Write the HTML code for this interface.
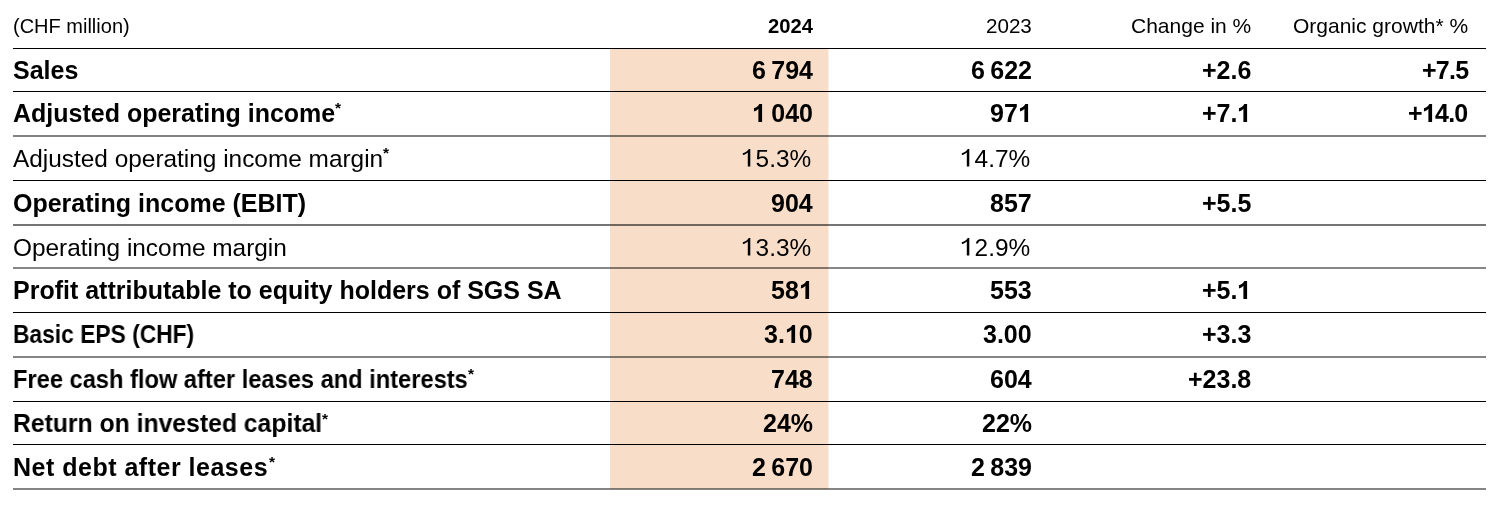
<!DOCTYPE html>
<html><head><meta charset="utf-8"><style>
html,body{margin:0;padding:0;background:#fff;}
body{width:1504px;height:505px;position:relative;overflow:hidden;font-family:"Liberation Sans",sans-serif;color:#000;}
.t{position:absolute;line-height:0;white-space:nowrap;will-change:transform;}
.ln{position:absolute;left:13px;width:1473px;}
.hl{position:absolute;left:610px;width:218px;top:49px;height:440px;background:#f8dec9;}
.o1{position:relative;color:transparent;}
.o1 svg{position:absolute;left:0;bottom:0.212em;width:0.556em;height:0.716em;overflow:visible;}
.ast{position:absolute;line-height:0;font-size:15.5px;font-weight:bold;will-change:transform;}
</style></head><body>
<div class="hl"></div>
<div style="position:absolute;left:828px;top:49px;width:1px;height:440px;background:rgba(248,222,201,.5)"></div>
<div class="ln" style="top:48px;height:1px;background:#000"></div>
<div class="ln" style="top:91px;height:1px;background:#000"></div>
<div class="ln" style="top:135px;height:2px;background:rgba(0,0,0,.49)"></div>
<div class="ln" style="top:180px;height:1px;background:#000"></div>
<div class="ln" style="top:224px;height:2px;background:rgba(0,0,0,.54)"></div>
<div class="ln" style="top:267px;height:2px;background:rgba(0,0,0,.47)"></div>
<div class="ln" style="top:312px;height:1px;background:#000"></div>
<div class="ln" style="top:356px;height:2px;background:rgba(0,0,0,.48)"></div>
<div class="ln" style="top:401px;height:1px;background:#000"></div>
<div class="ln" style="top:444px;height:1px;background:#000"></div>
<div class="ln" style="top:488px;height:2px;background:rgba(0,0,0,.48)"></div>
<div class="t" style="left:13px;top:26px;font-size:20.0px;">(CHF million)</div>
<div class="t" style="right:691.00px;top:26px;font-size:20.2px;font-weight:bold;">2024</div>
<div class="t" style="right:472.30px;top:26px;font-size:20.6px;">2023</div>
<div class="t" style="right:253.00px;top:26px;font-size:21.0px;">Change in %</div>
<div class="t" style="right:36.00px;top:26px;font-size:21.0px;">Organic growth* %</div>
<div class="t" style="left:13px;top:70px;font-size:25.0px;font-weight:bold;">Sales</div>
<div class="t" style="right:691.00px;top:70px;font-size:25.0px;font-weight:bold;word-spacing:-1.6px;">6 794</div>
<div class="t" style="right:472.30px;top:70px;font-size:25.0px;font-weight:bold;word-spacing:-1.6px;">6 622</div>
<div class="t" style="right:253.00px;top:70px;font-size:25.0px;font-weight:bold;">+2.6</div>
<div class="t" style="right:36.00px;top:70px;font-size:25.0px;font-weight:bold;letter-spacing:-0.75px;">+7.5</div>
<div class="t" style="left:13px;top:113px;font-size:25.0px;font-weight:bold;">Adjusted operating income</div>
<div class="ast" style="left:334.72px;top:108.42px">*</div>
<div class="t" style="right:691.00px;top:113px;font-size:25.0px;font-weight:bold;word-spacing:-1.6px;"><span class="o1">1<svg viewBox="0 -716 556 716"><path d="M256 0H404V-716H292C262-648 190-580 78-545V-414C150-436 210-470 256-522Z"/></svg></span> 040</div>
<div class="t" style="right:472.30px;top:113px;font-size:25.0px;font-weight:bold;">97<span class="o1">1<svg viewBox="0 -716 556 716"><path d="M256 0H404V-716H292C262-648 190-580 78-545V-414C150-436 210-470 256-522Z"/></svg></span></div>
<div class="t" style="right:253.00px;top:113px;font-size:25.0px;font-weight:bold;">+7.<span class="o1">1<svg viewBox="0 -716 556 716"><path d="M256 0H404V-716H292C262-648 190-580 78-545V-414C150-436 210-470 256-522Z"/></svg></span></div>
<div class="t" style="right:36.00px;top:113px;font-size:25.0px;font-weight:bold;letter-spacing:-0.75px;">+<span class="o1">1<svg viewBox="0 -716 556 716"><path d="M256 0H404V-716H292C262-648 190-580 78-545V-414C150-436 210-470 256-522Z"/></svg></span>4.0</div>
<div class="t" style="left:13px;top:159px;font-size:24.4px;">Adjusted operating income margin</div>
<div class="ast" style="left:382.72px;top:153.22px">*</div>
<div class="t" style="right:692.60px;top:159px;font-size:24.4px;"><span class="o1">1<svg viewBox="0 -716 556 716"><path d="M238 0H340V-716H276C242-640 150-575 34-545V-466C120-490 190-530 238-575Z"/></svg></span>5.3%</div>
<div class="t" style="right:473.90px;top:159px;font-size:24.4px;"><span class="o1">1<svg viewBox="0 -716 556 716"><path d="M238 0H340V-716H276C242-640 150-575 34-545V-466C120-490 190-530 238-575Z"/></svg></span>4.7%</div>
<div class="t" style="left:13px;top:203px;font-size:25.0px;font-weight:bold;">Operating income (EBIT)</div>
<div class="t" style="right:691.00px;top:203px;font-size:25.0px;font-weight:bold;">904</div>
<div class="t" style="right:472.30px;top:203px;font-size:25.0px;font-weight:bold;">857</div>
<div class="t" style="right:253.00px;top:203px;font-size:25.0px;font-weight:bold;">+5.5</div>
<div class="t" style="left:13px;top:248px;font-size:24.4px;">Operating income margin</div>
<div class="t" style="right:692.60px;top:248px;font-size:24.4px;"><span class="o1">1<svg viewBox="0 -716 556 716"><path d="M238 0H340V-716H276C242-640 150-575 34-545V-466C120-490 190-530 238-575Z"/></svg></span>3.3%</div>
<div class="t" style="right:473.90px;top:248px;font-size:24.4px;"><span class="o1">1<svg viewBox="0 -716 556 716"><path d="M238 0H340V-716H276C242-640 150-575 34-545V-466C120-490 190-530 238-575Z"/></svg></span>2.9%</div>
<div class="t" style="left:13px;top:290px;font-size:25.0px;font-weight:bold;">Profit attributable to equity holders of SGS SA</div>
<div class="t" style="right:691.00px;top:290px;font-size:25.0px;font-weight:bold;">58<span class="o1">1<svg viewBox="0 -716 556 716"><path d="M256 0H404V-716H292C262-648 190-580 78-545V-414C150-436 210-470 256-522Z"/></svg></span></div>
<div class="t" style="right:472.30px;top:290px;font-size:25.0px;font-weight:bold;">553</div>
<div class="t" style="right:253.00px;top:290px;font-size:25.0px;font-weight:bold;">+5.<span class="o1">1<svg viewBox="0 -716 556 716"><path d="M256 0H404V-716H292C262-648 190-580 78-545V-414C150-436 210-470 256-522Z"/></svg></span></div>
<div class="t" style="left:13px;top:334px;font-size:25.0px;font-weight:bold;transform:scaleX(0.912);transform-origin:0 0;">Basic EPS (CHF)</div>
<div class="t" style="right:691.00px;top:334px;font-size:25.0px;font-weight:bold;">3.<span class="o1">1<svg viewBox="0 -716 556 716"><path d="M256 0H404V-716H292C262-648 190-580 78-545V-414C150-436 210-470 256-522Z"/></svg></span>0</div>
<div class="t" style="right:472.30px;top:334px;font-size:25.0px;font-weight:bold;">3.00</div>
<div class="t" style="right:253.00px;top:334px;font-size:25.0px;font-weight:bold;">+3.3</div>
<div class="t" style="left:13px;top:379px;font-size:25.0px;font-weight:bold;transform:scaleX(0.946);transform-origin:0 0;">Free cash flow after leases and interests</div>
<div class="ast" style="left:467.62px;top:374.02px">*</div>
<div class="t" style="right:691.00px;top:379px;font-size:25.0px;font-weight:bold;">748</div>
<div class="t" style="right:472.30px;top:379px;font-size:25.0px;font-weight:bold;">604</div>
<div class="t" style="right:253.00px;top:379px;font-size:25.0px;font-weight:bold;">+23.8</div>
<div class="t" style="left:13px;top:423px;font-size:25.0px;font-weight:bold;transform:scaleX(0.989);transform-origin:0 0;">Return on invested capital</div>
<div class="ast" style="left:322.12px;top:418.62px">*</div>
<div class="t" style="right:691.00px;top:423px;font-size:25.0px;font-weight:bold;">24%</div>
<div class="t" style="right:472.30px;top:423px;font-size:25.0px;font-weight:bold;">22%</div>
<div class="t" style="left:13px;top:467px;font-size:25.0px;font-weight:bold;letter-spacing:0.5px;">Net debt after leases</div>
<div class="ast" style="left:268.52px;top:462.02px">*</div>
<div class="t" style="right:691.00px;top:467px;font-size:25.0px;font-weight:bold;word-spacing:-1.6px;">2 670</div>
<div class="t" style="right:472.30px;top:467px;font-size:25.0px;font-weight:bold;word-spacing:-1.6px;">2 839</div>
</body></html>
